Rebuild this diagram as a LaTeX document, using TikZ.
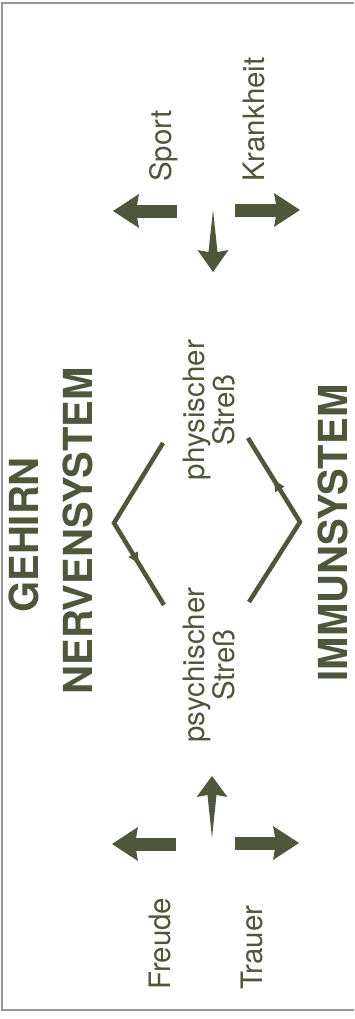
\documentclass[tikz,border=0pt]{standalone}
\usepackage{fontspec}
\setmainfont{TeX Gyre Heros}
\usetikzlibrary{arrows.meta,decorations.markings}

\definecolor{ink}{RGB}{78,87,60}
\definecolor{rim}{RGB}{150,150,150}

\begin{document}
\begin{tikzpicture}[
    x=1pt,y=-1pt,
    >=Stealth,
    every node/.style={text=ink,inner sep=0pt},
    term/.style={rotate=90,anchor=base west,font=\fontsize{29.5}{31}\selectfont},
    system/.style={rotate=90,anchor=base,font=\fontsize{40}{44}\selectfont\bfseries},
    stress/.style={rotate=90,align=center,font=\fontsize{29.5}{30}\selectfont},
    block arrow/.style={draw=ink,line width=13pt,-{Stealth[length=26pt,width=34pt,inset=3pt,line width=0pt]}},
    link/.style={draw=ink,line width=4.5pt},
    mid arrow/.style={postaction={decorate},decoration={markings,
        mark=at position 0.75 with {\arrow{Latex[length=12pt,width=11pt,line width=0pt]}}}}
]
\useasboundingbox (0,0) rectangle (354,1019);

% frame, open on the right
\draw[rim,line width=1.2pt] (354,3) -- (2,3) -- (2,1010) -- (354,1010);

% systems
\node[system] (gehirn) at (38,535) {GEHIRN};
\node[system] (nerven) at (92,531) {NERVENSYSTEM};
\node[system] (immun) at (347,533) {IMMUNSYSTEM};

% stress
\node[stress] (physisch) at (209,410) {physischer\\Streß};
\node[stress] (psychisch) at (209,665) {psychischer\\Streß};

% causes
\node[term] (sport) at (171,182) {Sport};
\node[term] (krank) at (264,182) {Krankheit};
\node[term] (freude) at (170,990) {Freude};
\node[term] (trauer) at (262,990) {Trauer};

% chevron on the brain side
\coordinate (g-top) at (163,443);
\coordinate (g-vertex) at (114,523);
\coordinate (g-bot) at (164,605);
\draw[link,mid arrow] (g-top) -- (g-vertex) -- (g-bot);

% chevron on the immune side
\coordinate (i-top) at (248,438);
\coordinate (i-vertex) at (300,522);
\coordinate (i-bot) at (249,602);
\draw[link,mid arrow] (i-bot) -- (i-vertex) -- (i-top);

% arrows next to Sport / Krankheit
\coordinate (sp-tail) at (177,211);
\coordinate (sp-tip) at (113,211);
\coordinate (kr-tail) at (235,210);
\coordinate (kr-tip) at (300,210);
\draw[block arrow] (sp-tail) -- (sp-tip);
\draw[block arrow] (kr-tail) -- (kr-tip);
\fill[ink] (213,210) -- (217.5,252) -- (228.5,250) -- (213,272)
    -- (197.5,250) -- (208.5,252) -- cycle;

% arrows next to Freude / Trauer
\coordinate (fr-tail) at (176,844);
\coordinate (fr-tip) at (112,844);
\coordinate (tr-tail) at (235,843);
\coordinate (tr-tip) at (299,843);
\draw[block arrow] (fr-tail) -- (fr-tip);
\draw[block arrow] (tr-tail) -- (tr-tip);
\fill[ink] (212,838) -- (216.5,795) -- (227.5,797) -- (212,776)
    -- (196.5,797) -- (207.5,795) -- cycle;

\end{tikzpicture}
\end{document}
